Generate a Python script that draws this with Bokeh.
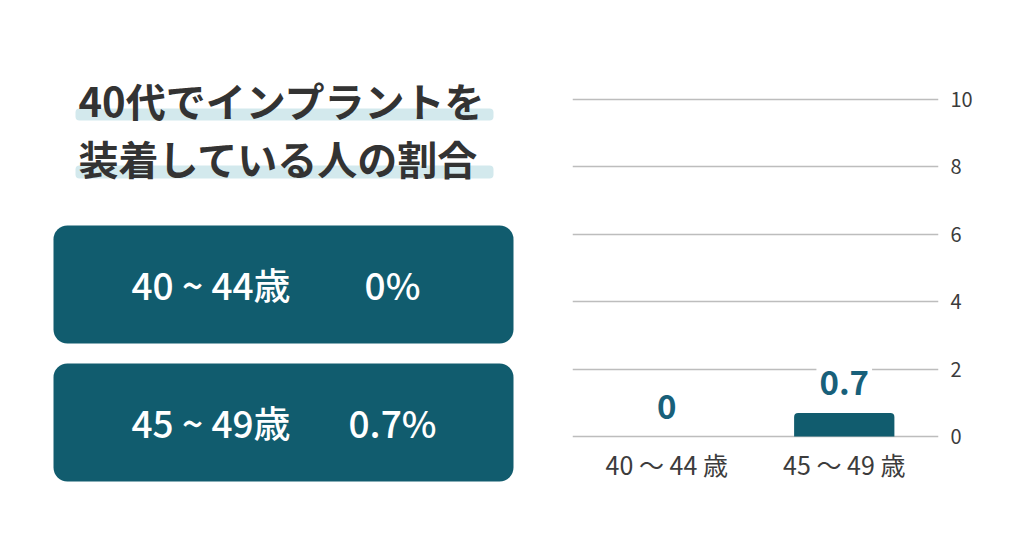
from bokeh.plotting import figure
from bokeh.models import Range1d, FactorRange, FixedTicker, ColumnDataSource
from bokeh.layouts import row
from bokeh.core.properties import value
from bokeh.embed import file_html
from bokeh.resources import INLINE

# données
title_lines = ["40代でインプラントを", "装着している人の割合"]
box_labels = ["40 ~ 44歳", "45 ~ 49歳"]
categories = ["40 〜 44 歳", "45 〜 49 歳"]
rates = [0, 0.7]
y_ticks = [0, 2, 4, 6, 8, 10]

FONT = value("Noto Sans CJK JP")
FONT_MED = value("'Noto Sans CJK JP Medium', 'Noto Sans CJK JP'")
TEAL = "#115c6e"

# partie gauche : titre + encadrés (coordonnées en pixels de la page)
left = figure(width=540, height=522, x_range=Range1d(0, 540), y_range=Range1d(522, 0),
              output_backend="svg", toolbar_location=None, min_border=0,
              x_axis_location=None, y_axis_location=None)
left.grid.visible = False
left.outline_line_color = None

title_y = [99, 157]
left.quad(left=75, right=493, top=[108, 165], bottom=[120, 178],
          fill_color="#d3e9ed", line_color=None, border_radius=4)
left.text(x=78, y=title_y, text=title_lines, text_font=FONT, text_font_size="40px",
          text_font_style="bold", text_color="#333333", text_baseline="middle")

box_top = [225, 363]
box_bottom = [343, 481]
left.quad(left=53, right=513, top=box_top, bottom=box_bottom,
          fill_color=TEAL, line_color=None, border_radius=14)
box_y = [(t + b) / 2 - 1 for t, b in zip(box_top, box_bottom)]
left.text(x=131, y=box_y, text=box_labels, text_font=FONT_MED, text_font_size="37px",
          text_color="white", text_baseline="middle")
left.text(x=392, y=box_y, text=[f"{v:g}%" for v in rates], text_font=FONT_MED,
          text_font_size="37px", text_color="white",
          text_baseline="middle", text_align="center")

# partie droite : graphique en barres
src = ColumnDataSource(data=dict(cat=categories, rate=rates, lbl=[f"{v:g}" for v in rates]))

unit = (436 - 99) / 10  # pixels par unité
p = figure(width=468, height=522,
           x_range=FactorRange(*categories, range_padding=0.031, range_padding_units="absolute"),
           y_range=Range1d(-(522 - 436) / unit, 10 + 99 / unit),
           x_axis_location=None, y_axis_location="right",
           output_backend="svg", toolbar_location=None,
           min_border_left=32, min_border_right=70, min_border_top=0, min_border_bottom=0)
p.outline_line_color = None
p.xgrid.grid_line_color = None
p.ygrid.ticker = FixedTicker(ticks=y_ticks)
p.ygrid.grid_line_color = "#bdbdbd"
p.ygrid.grid_line_width = 1.5
p.yaxis.ticker = FixedTicker(ticks=y_ticks)
p.yaxis.axis_line_color = None
p.yaxis.major_tick_line_color = None
p.yaxis.major_tick_out = 0
p.yaxis.minor_tick_line_color = None
p.yaxis.minor_tick_out = 0
p.yaxis.major_label_text_font = "Noto Sans CJK JP"
p.yaxis.major_label_text_font_size = "20px"
p.yaxis.major_label_text_color = "#3c3c3c"
p.yaxis.major_label_standoff = 12

p.vbar(x="cat", top="rate", width=0.565, source=src, fill_color=TEAL, line_color=None,
       border_radius=(4, 4, 0, 0))
p.text(x="cat", y="rate", text="lbl", source=src, text_font=FONT, text_font_size="33px",
       text_font_style="bold", text_color="#18607a", text_align="center",
       text_baseline="middle", y_offset=-30, background_fill_color="white", padding=3)
# libellés des catégories
p.text(x="cat", y=0, text="cat", source=src, text_font=FONT, text_font_size="25px",
       text_color="#3c3c3c", text_align="center", text_baseline="middle", y_offset=27)

layout = row(left, p)
open("out.html", "w").write(file_html(layout, INLINE))
